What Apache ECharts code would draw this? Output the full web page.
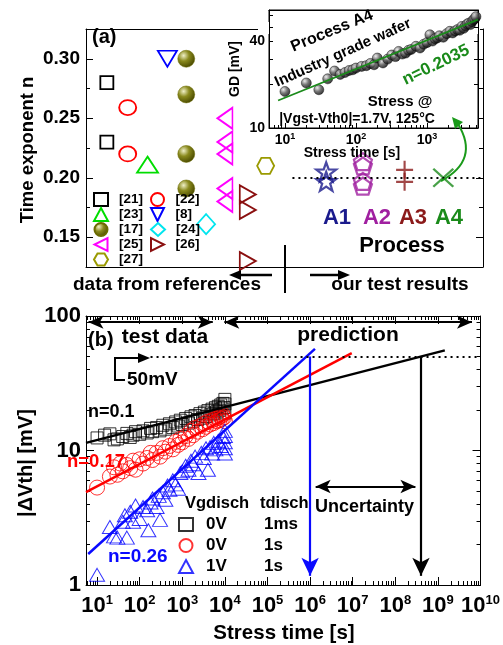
<!DOCTYPE html>
<html><head><meta charset="utf-8">
<script src="https://cdn.jsdelivr.net/npm/echarts@6/dist/echarts.min.js"></script>
<style>html,body{margin:0;padding:0;background:#fff}#c{width:503px;height:645px}</style>
</head><body><div id="c"></div>
<script>
// ================= DATA =================
// panel (a): time exponent n from references, group positions along the (unlabelled) x axis
const refLabels = ['[21]', '[22]', '[23]', '[8]', '[17]', '[24]', '[25]', '[26]', '[27]'];
const refPos = [1.05, 2.1, 3.1, 4.1, 5.05, 6.05, 7.0, 8.15, 9.05];
const refN = [
  [0.28, 0.23],
  [0.259, 0.22],
  [0.211],
  [0.30],
  [0.30, 0.27, 0.22, 0.191],
  [0.161],
  [0.25, 0.23, 0.22, 0.191, 0.18],
  [0.186, 0.173, 0.13],
  [0.21]
];
const procLabels = ['A1', 'A2', 'A3', 'A4'];
const procPos = [12.1, 13.95, 16.05, 18.0];
const procN = [[0.205, 0.197], [0.2135, 0.21, 0.197, 0.193], [0.2067, 0.1966], [0.20]];
const nTarget = 0.20;
const yTicksA = [0.15, 0.20, 0.25, 0.30];
const yMinorA = [0.175, 0.225, 0.275];

// inset: GD [mV] vs stress time, process A4
const insetT = [10, 20, 30, 40, 50, 60, 70, 80, 90, 100, 120, 140, 160, 180, 200, 240, 280, 320, 360, 400, 450, 500, 550, 600, 700, 800, 900, 1000, 1100, 1200, 1300, 1400, 1500, 1700, 1900, 2100, 2300, 2500, 2700, 2900, 3100, 3300, 3500, 3700, 3900, 4100, 4300, 4500, 4700, 4900];
const insetGD = [17.9, 20.5, 18.4, 21.9, 24.8, 23.5, 24.2, 25.0, 25.3, 26.0, 26.7, 27.0, 28.0, 27.4, 30.5, 28.2, 30.0, 32.0, 31.2, 33.9, 32.5, 33.0, 34.5, 35.0, 36.8, 35.8, 38.0, 39.0, 44.2, 40.0, 41.5, 42.0, 43.5, 42.5, 45.0, 46.7, 45.5, 47.0, 48.0, 47.5, 50.5, 49.0, 51.0, 52.5, 53.2, 52.0, 54.5, 56.0, 57.0, 59.0];
const insetFit = [[8, 15.5], [5230, 56.3]];
const insetXTicks = [10, 100, 1000];
const insetYLabels = [10, 40];
const insetYTicks = [10, 20, 30, 40, 50, 60];

// panel (b): |dVth| vs stress time
const tBlack = [10, 15, 20, 25, 30, 40, 50, 60, 70, 80, 100, 120, 150, 180, 200, 250, 300, 350, 400, 500, 600, 700, 800, 900, 1000, 1200, 1400, 1600, 1800, 2000, 2300, 2600, 3000, 3300, 3600, 4000, 4500, 5000, 5500, 6000, 6500, 7000, 7500, 8000, 8500, 9000, 9500, 10000, 10000, 10000];
const vBlack = [12.4, 13.0, 13.3, 12.0, 12.2, 12.7, 13.4, 12.5, 13.0, 13.8, 13.2, 14.0, 13.5, 14.6, 13.8, 14.8, 14.0, 15.4, 14.4, 15.8, 14.8, 16.3, 15.2, 16.8, 15.6, 17.3, 16.0, 17.8, 16.5, 18.2, 17.0, 18.8, 17.4, 19.3, 17.9, 19.8, 18.4, 20.3, 18.9, 20.8, 19.4, 21.3, 19.9, 21.8, 20.4, 22.4, 20.9, 24.0, 22.2, 19.0];
const tRed = [10, 20, 25, 30, 35, 40, 50, 60, 70, 80, 100, 120, 150, 180, 200, 250, 300, 350, 400, 500, 600, 700, 800, 900, 1000, 1200, 1400, 1600, 1800, 2000, 2300, 2600, 3000, 3300, 3600, 4000, 4500, 5000, 5500, 6000, 6500, 7000, 7500, 8000, 8500, 9000, 9500, 10000];
const vRed = [5.3, 6.4, 7.5, 6.6, 8.0, 7.0, 7.8, 7.4, 8.4, 7.2, 8.6, 8.0, 8.8, 9.6, 8.5, 9.6, 9.0, 10.4, 9.8, 10.8, 10.2, 11.6, 11.0, 12.2, 11.5, 12.8, 12.2, 14.0, 13.0, 14.7, 13.8, 15.2, 14.4, 15.9, 15.0, 16.4, 15.6, 16.8, 16.0, 17.2, 16.5, 17.6, 16.8, 18.0, 17.2, 18.4, 17.6, 16.5];
const tBlue = [10, 20, 25, 30, 40, 45, 50, 60, 70, 80, 100, 120, 150, 160, 180, 200, 250, 280, 300, 350, 400, 450, 500, 600, 700, 800, 900, 1000, 1200, 1400, 1600, 1800, 2000, 2400, 2800, 3200, 3600, 4000, 4500, 5000, 5500, 6000, 7000, 8000, 9000, 10000, 10000, 10000, 10000, 10000];
const vBlue = [1.19, 2.7, 2.3, 2.25, 2.95, 3.3, 2.25, 3.5, 2.95, 3.9, 3.1, 3.8, 3.6, 2.55, 4.1, 4.4, 3.8, 4.6, 3.05, 4.9, 4.3, 5.5, 5.1, 6.0, 5.6, 5.2, 6.8, 7.0, 7.7, 7.2, 8.4, 7.9, 9.0, 6.8, 9.6, 8.8, 10.4, 7.2, 10.6, 9.5, 11.4, 10.2, 11.8, 10.8, 12.6, 14.0, 12.8, 11.5, 10.4, 9.5];
const fitBlack = [[5.5, 11.4], [1.45e9, 55.5]];
const fitRed = [[5.5, 4.9], [9.5e6, 53]];
const fitBlue = [[6.2, 1.7], [1.3e6, 57]];
const limitMV = 50;
const tBlueLimit = 1e6;
const tBlackLimit = 4e8;
const xTicksB = [10, 1e2, 1e3, 1e4, 1e5, 1e6, 1e7, 1e8, 1e9, 1e10];
const yTicksB = [1, 10, 100];

// ================= HELPERS =================
const F = '"Liberation Sans", Arial, sans-serif';
const pairs = (xs, ys) => xs.map((x, i) => [x, ys[i]]);
const minorLog = (lo, hi) => { const r = []; for (let d = 1e-3; d < hi; d *= 10) for (let m = 2; m <= 9; m++) { const v = m * d; if (v > lo && v < hi) r.push(+v.toPrecision(3)); } return r; };

function mkAxis(o) {
  return {
    gridIndex: o.g, type: o.type || 'value', logBase: 10, min: o.min, max: o.max, position: o.pos,
    axisLine: { show: o.line !== false, onZero: false, lineStyle: { color: '#000', width: 1 } },
    axisTick: o.ticks ? { show: true, inside: true, length: o.len || 6, customValues: o.ticks, lineStyle: { color: '#000', width: 1 } } : { show: false },
    axisLabel: o.labels ? Object.assign({ show: true, customValues: o.labels, formatter: o.fmt, color: '#000', fontFamily: F, fontWeight: 'bold', fontSize: o.fs || 14, margin: o.margin || 6 }, o.lab || {}) : { show: false },
    splitLine: { show: false }, minorTick: { show: false }, minorSplitLine: { show: false },
    z: o.z || 0, silent: true
  };
}
const supFmt = v => '{b|10}{s|' + Math.round(Math.log10(v)) + '}';
const supRich = (b, s) => ({
  b: { fontSize: b, fontWeight: 'bold', fontFamily: F, color: '#000', lineHeight: b + 2 },
  s: { fontSize: s, fontWeight: 'bold', fontFamily: F, color: '#000', verticalAlign: 'top', lineHeight: s + 1 }
});

const xMinorB = minorLog(5.5, 1e10);
const yMinorB = minorLog(1, 100);
const insetXMinor = minorLog(5.96, 5240);

// ================= SYMBOLS =================
const P = {
  down: 'path://M0,0 L2,0 L1,2 Z',
  left: 'path://M2,0 L2,2 L0,1 Z',
  right: 'path://M0,0 L0,2 L2,1 Z',
  hex: 'path://M-1,0 L-0.5,-0.866 L0.5,-0.866 L1,0 L0.5,0.866 L-0.5,0.866 Z',
  star: 'path://M0,-10 L2.35,-3.24 L9.51,-3.09 L3.80,1.24 L5.88,8.09 L0,4 L-5.88,8.09 L-3.80,1.24 L-9.51,-3.09 L-2.35,-3.24 Z',
  pent: 'path://M0,-10 L9.51,-3.09 L5.88,8.09 L-5.88,8.09 L-9.51,-3.09 Z',
  plus: 'path://M0,-10 L0,10 M-10,0 L10,0',
  cross: 'path://M-10,-10 L10,10 M-10,10 L10,-10'
};
const olive = { type: 'radial', x: 0.35, y: 0.32, r: 0.7, colorStops: [{ offset: 0, color: '#f0f0c8' }, { offset: 0.45, color: '#8a8a1e' }, { offset: 1, color: '#4a4a00' }] };
const graySphere = { type: 'radial', x: 0.35, y: 0.32, r: 0.7, colorStops: [{ offset: 0, color: '#e8e8e8' }, { offset: 0.5, color: '#555' }, { offset: 1, color: '#000' }] };
const refStyle = [
  { symbol: 'rect', size: 13, c: '#000' },
  { symbol: 'circle', size: [17, 15], c: '#ff0000' },
  { symbol: 'triangle', size: [21, 16], c: '#00dd00' },
  { symbol: P.down, size: [19, 16], c: '#0000ff' },
  { symbol: 'circle', size: 17, c: '#6b6b00', fill: olive },
  { symbol: 'diamond', size: [18, 20], c: '#00e5ee' },
  { symbol: P.left, size: [15, 21], c: '#ff00ff' },
  { symbol: P.right, size: [16, 18], c: '#8b1010' },
  { symbol: P.hex, size: [17, 16], c: '#9a9a00' }
];
const procStyle = [
  { symbol: P.star, size: [20, 19], c: '#1a1a8c' },
  { symbol: P.pent, size: [18, 17], c: '#a020a0' },
  { symbol: P.plus, size: [17, 18], c: '#8b1a1a' },
  { symbol: P.cross, size: [20, 18], c: '#1a8a1a' }
];

// ================= SERIES =================
const series = [];
refLabels.forEach((name, i) => {
  const st = refStyle[i];
  series.push({
    type: 'scatter', name, xAxisIndex: 0, yAxisIndex: 0,
    data: refN[i].map(v => [refPos[i], v]),
    symbol: st.symbol, symbolSize: st.size,
    itemStyle: { color: st.fill || 'transparent', borderColor: st.c, borderWidth: st.fill ? 0.5 : 1.8, opacity: 1 },
    emphasis: { disabled: true }, silent: true, z: 3
  });
});
procLabels.forEach((name, i) => {
  const st = procStyle[i];
  const s = {
    type: 'scatter', name, xAxisIndex: 0, yAxisIndex: 0,
    data: procN[i].map(v => [procPos[i], v]),
    symbol: st.symbol, symbolSize: st.size,
    itemStyle: { color: 'transparent', borderColor: st.c, borderWidth: 2.2 },
    emphasis: { disabled: true }, silent: true, z: 3
  };
  if (i === 3) {
    s.markLine = {
      silent: true, animation: false, symbol: ['none', 'none'], label: { show: false },
      lineStyle: { color: '#000', width: 2, type: [2, 4] },
      data: [[{ coord: [10.4, nTarget] }, { coord: [20, nTarget] }]]
    };
  }
  series.push(s);
});

// inset
series.push({
  type: 'scatter', name: 'insetData', xAxisIndex: 6, yAxisIndex: 8,
  data: pairs(insetT, insetGD), symbol: 'circle', symbolSize: 10,
  itemStyle: { color: graySphere, borderColor: '#111', borderWidth: 0.6 },
  emphasis: { disabled: true }, silent: true, z: 12
});
series.push({
  type: 'line', name: 'insetFit', xAxisIndex: 6, yAxisIndex: 8, data: insetFit,
  showSymbol: false, symbol: 'none', lineStyle: { color: '#1a8a1a', width: 1.8 },
  emphasis: { disabled: true }, silent: true, z: 13
});

// panel (b)
const bStyle = (c) => ({ color: 'transparent', borderColor: c, borderWidth: 1 });
series.push({
  type: 'scatter', name: '0V 1ms', xAxisIndex: 2, yAxisIndex: 4, data: pairs(tBlack, vBlack),
  symbol: 'rect', symbolSize: 12, itemStyle: bStyle('#000'), emphasis: { disabled: true }, silent: true, z: 3
});
series.push({
  type: 'scatter', name: '0V 1s', xAxisIndex: 2, yAxisIndex: 4, data: pairs(tRed, vRed),
  symbol: 'circle', symbolSize: 15, itemStyle: bStyle('#ff0000'), emphasis: { disabled: true }, silent: true, z: 3
});
series.push({
  type: 'scatter', name: '1V 1s', xAxisIndex: 2, yAxisIndex: 4, data: pairs(tBlue, vBlue),
  symbol: 'triangle', symbolSize: [15, 13], itemStyle: bStyle('#0000ff'), emphasis: { disabled: true }, silent: true, z: 3
});
const mlBase = { silent: true, animation: false, label: { show: false }, emphasis: { disabled: true } };
series.push({
  type: 'line', name: 'fitBlack', xAxisIndex: 2, yAxisIndex: 4, data: fitBlack, showSymbol: false, symbol: 'none',
  lineStyle: { color: '#000', width: 2.5 }, emphasis: { disabled: true }, silent: true, z: 4,
  markLine: Object.assign({}, mlBase, {
    symbol: ['arrow', 'arrow'], symbolSize: [10, 15],
    lineStyle: { color: '#000', width: 2.2, type: 'solid' },
    data: [
      [{ coord: [tBlackLimit, limitMV], symbol: 'none' }, { coord: [tBlackLimit, 1.17], symbol: 'arrow', symbolSize: [13, 18] }],
      [{ coord: [6.3, 90] }, { coord: [5.2e3, 90] }],
      [{ coord: [9.7e3, 90] }, { coord: [6.3e9, 90] }],
      [{ coord: [tBlueLimit * 1.35, 5.4] }, { coord: [tBlackLimit / 1.35, 5.4] }]
    ]
  })
});
series.push({
  type: 'line', name: 'fitRed', xAxisIndex: 2, yAxisIndex: 4, data: fitRed, showSymbol: false, symbol: 'none',
  lineStyle: { color: '#ff0000', width: 2.5 }, emphasis: { disabled: true }, silent: true, z: 4,
  markLine: Object.assign({}, mlBase, {
    symbol: ['none', 'none'], lineStyle: { color: '#000', width: 2, type: [2, 4] },
    data: [[{ coord: [180, limitMV] }, { coord: [1e10, limitMV] }]]
  })
});
series.push({
  type: 'line', name: 'fitBlue', xAxisIndex: 2, yAxisIndex: 4, data: fitBlue, showSymbol: false, symbol: 'none',
  lineStyle: { color: '#0a0aff', width: 2.5 }, emphasis: { disabled: true }, silent: true, z: 4,
  markLine: Object.assign({}, mlBase, {
    symbol: ['none', 'none'], lineStyle: { color: '#0a0aff', width: 2.2, type: 'solid' },
    data: [[{ coord: [tBlueLimit, limitMV], symbol: 'none' }, { coord: [tBlueLimit, 1.17], symbol: 'arrow', symbolSize: [13, 18] }]]
  })
});

// ================= AXES =================
const xAxes = [
  mkAxis({ g: 0, min: 0, max: 20, pos: 'bottom' }),
  mkAxis({ g: 0, min: 0, max: 20, pos: 'top' }),
  mkAxis({ g: 1, type: 'log', min: 5.5, max: 1e10, pos: 'bottom', ticks: xTicksB, len: 8, labels: xTicksB, fmt: supFmt, margin: 9, lab: { rich: supRich(22, 13) } }),
  mkAxis({ g: 1, type: 'log', min: 5.5, max: 1e10, pos: 'bottom', ticks: xMinorB, len: 4, line: false }),
  mkAxis({ g: 1, type: 'log', min: 5.5, max: 1e10, pos: 'top', ticks: xTicksB, len: 8 }),
  mkAxis({ g: 1, type: 'log', min: 5.5, max: 1e10, pos: 'top', ticks: xMinorB, len: 4, line: false }),
  mkAxis({ g: 2, type: 'log', min: 5.96, max: 5240, pos: 'bottom', ticks: insetXTicks, len: 5, labels: insetXTicks, fmt: supFmt, margin: 4, z: 11, lab: { rich: supRich(14, 9) } }),
  mkAxis({ g: 2, type: 'log', min: 5.96, max: 5240, pos: 'top', z: 11 }),
  mkAxis({ g: 2, type: 'log', min: 5.96, max: 5240, pos: 'bottom', ticks: insetXMinor, len: 3, line: false, z: 11 })
];
const yAxes = [
  mkAxis({ g: 0, min: 0.125, max: 0.325, pos: 'left', ticks: yTicksA, len: 7, labels: yTicksA, fmt: v => v.toFixed(2), fs: 19, margin: 6 }),
  mkAxis({ g: 0, min: 0.125, max: 0.325, pos: 'left', ticks: yMinorA, len: 4, line: false }),
  mkAxis({ g: 0, min: 0.125, max: 0.325, pos: 'right', ticks: yTicksA, len: 7 }),
  mkAxis({ g: 0, min: 0.125, max: 0.325, pos: 'right', ticks: yMinorA, len: 4, line: false }),
  mkAxis({ g: 1, type: 'log', min: 1, max: 100, pos: 'left', ticks: yTicksB, len: 8, labels: yTicksB, fmt: v => String(Math.round(v)), fs: 22, margin: 5 }),
  mkAxis({ g: 1, type: 'log', min: 1, max: 100, pos: 'left', ticks: yMinorB, len: 4, line: false }),
  mkAxis({ g: 1, type: 'log', min: 1, max: 100, pos: 'right', ticks: yTicksB, len: 8 }),
  mkAxis({ g: 1, type: 'log', min: 1, max: 100, pos: 'right', ticks: yMinorB, len: 4, line: false }),
  mkAxis({ g: 2, type: 'log', min: 10, max: 65.6, pos: 'left', ticks: insetYTicks, len: 4, labels: insetYLabels, fmt: v => String(Math.round(v)), fs: 14, margin: 4, z: 11 }),
  mkAxis({ g: 2, type: 'log', min: 10, max: 65.6, pos: 'right', ticks: insetYTicks, len: 4, z: 11 })
];

// ================= ANNOTATIONS =================
const T = (text, x, y, font, fill, align, rot) => ({
  type: 'text', x, y, rotation: rot || 0, z: 100, silent: true,
  style: { text, font: font + ' ' + F, fill: fill || '#000', textAlign: align || 'center', align: align || 'center', textVerticalAlign: 'middle', verticalAlign: 'middle' }
});
const L = (pts, color, w, z) => ({ type: 'polyline', z: z || 100, silent: true, shape: { points: pts }, style: { stroke: color || '#000', lineWidth: w || 2, fill: null } });
const G = (pts, color, z) => ({ type: 'polygon', z: z || 100, silent: true, shape: { points: pts }, style: { fill: color || '#000' } });
const graphics = [
  // hide top frame under the inset
  { type: 'rect', z: 10, silent: true, shape: { x: 258, y: 22, width: 222, height: 12 }, style: { fill: '#fff' } },
  T('(a)', 92, 37, 'bold 20px', '#000', 'left'),
  T('Time exponent n', 28, 150, 'bold 18.5px', '#000', 'center', Math.PI / 2),
  T('data from references', 167, 285, 'bold 19px'),
  T('our test results', 400, 285, 'bold 19px'),
  L([[272, 275], [238, 275]], '#000', 2.5), G([[229, 275], [241, 270], [241, 280]]),
  L([[310, 275], [340, 275]], '#000', 2.5), G([[350, 275], [338, 270], [338, 280]]),
  L([[285, 245], [285, 293]], '#000', 2),
  T('A1', 337, 218, 'bold 22px', '#1a1a8c'),
  T('A2', 377, 218, 'bold 22px', '#a020a0'),
  T('A3', 413, 218, 'bold 22px', '#8b1a1a'),
  T('A4', 449, 218, 'bold 22px', '#1a8a1a'),
  T('Process', 402, 246, 'bold 22px'),
  // inset texts
  T('Process A4', 332, 31, 'bold 16px', '#000', 'center', 0.39),
  T('Industry grade wafer', 343, 53, 'bold 15px', '#000', 'center', 0.42),
  T('n=0.2035', 436, 65, 'bold 17px', '#1a8a1a', 'center', 0.45),
  T('Stress @', 400, 102, 'bold 15px'),
  T('|Vgst-Vth0|=1.7V, 125\u00b0C', 357, 119, 'bold 14px'),
  T('Stress time [s]', 352, 153, 'bold 14px'),
  T('GD [mV]', 235, 69, 'bold 14px', '#000', 'center', Math.PI / 2),
  // green curved arrow
  { type: 'bezierCurve', z: 100, silent: true, shape: { x1: 441, y1: 181, cpx1: 480, cpy1: 160, x2: 458, y2: 124 }, style: { stroke: '#1a9a1a', lineWidth: 2, fill: null } },
  G([[452, 117], [463, 122], [455, 129]], '#1a9a1a'),
  // panel (b)
  T('(b)', 88, 340, 'bold 20px', '#000', 'left'),
  T('test data', 165, 337, 'bold 21px'),
  T('prediction', 348, 335, 'bold 21px'),
  L([[125, 380], [115, 380], [115, 358], [140, 358]], '#000', 2), G([[150, 358], [138, 353], [138, 363]]),
  T('50mV', 127, 380, 'bold 19px', '#000', 'left'),
  T('n=0.1', 88, 412, 'bold 18px', '#000', 'left'),
  T('n=0.17', 67, 462, 'bold 18.5px', '#ff0000', 'left'),
  T('n=0.26', 108, 557, 'bold 19px', '#0a0aff', 'left'),
  T('Vgdisch', 185, 503, 'bold 16.5px', '#000', 'left'),
  T('tdisch', 260, 503, 'bold 16.5px', '#000', 'left'),
  T('Uncertainty', 315, 507, 'bold 18px', '#000', 'left'),
  T('|\u0394Vth| [mV]', 26, 463, 'bold 20px', '#000', 'center', Math.PI / 2),
  T('Stress time [s]', 284, 633, 'bold 20.5px')
];

// ================= OPTION =================
const chart = echarts.init(document.getElementById('c'), null, { renderer: 'canvas' });
chart.setOption({
  animation: false,
  backgroundColor: '#fff',
  grid: [
    { left: 86, right: 20, top: 29, height: 238 },
    { left: 86, right: 20, top: 316, height: 269 },
    { left: 269, width: 209, top: 10, height: 118, show: true, backgroundColor: '#fff', borderColor: '#000', borderWidth: 1, z: 9 }
  ],
  xAxis: xAxes,
  yAxis: yAxes,
  legend: [
    {
      data: refLabels, left: 93, top: 192, width: 115, orient: 'horizontal', padding: 0, itemGap: 0,
      itemWidth: 14, itemHeight: 13, selectedMode: false,
      formatter: n => '{a|' + n + '}',
      textStyle: { rich: { a: { width: 31, padding: [0, 0, 0, 6], fontSize: 13.5, fontWeight: 'bold', fontFamily: F, color: '#000', lineHeight: 15 } } }
    },
    {
      data: ['0V 1ms', '0V 1s', '1V 1s'], left: 178, top: 516, orient: 'vertical', padding: 0, itemGap: 4,
      itemWidth: 14, itemHeight: 13, selectedMode: false,
      formatter: n => { const p = n.split(' '); return '{a|' + p[0] + '}{b|' + p[1] + '}'; },
      textStyle: { rich: {
        a: { width: 58, padding: [0, 0, 0, 8], fontSize: 17, fontWeight: 'bold', fontFamily: F, color: '#000', lineHeight: 20 },
        b: { fontSize: 17, fontWeight: 'bold', fontFamily: F, color: '#000', lineHeight: 20 }
      } }
    }
  ],
  series,
  graphic: { elements: graphics }
});
</script></body></html>
